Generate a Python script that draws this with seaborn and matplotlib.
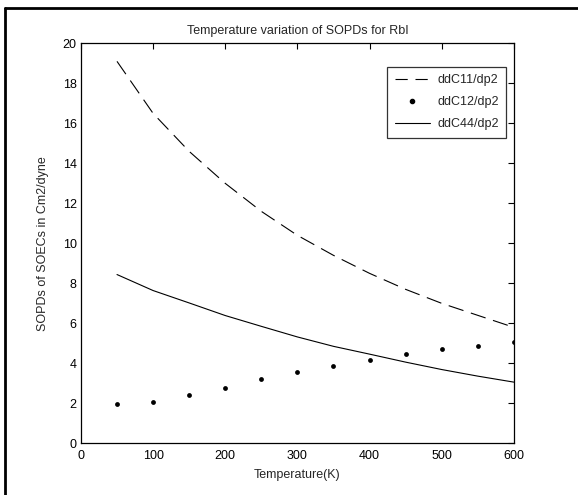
import numpy as np
import pandas as pd
import matplotlib
matplotlib.use("Agg")
import matplotlib.pyplot as plt
import seaborn as sns
from matplotlib.lines import Line2D

temperature = [50, 100, 150, 200, 250, 300, 350, 400, 450, 500, 550, 600]
ddC11 = [19.1, 16.5, 14.6, 13.0, 11.6, 10.4, 9.4, 8.5, 7.7, 7.0, 6.4, 5.8]
ddC12 = [1.95, 2.08, 2.43, 2.78, 3.2, 3.55, 3.89, 4.19, 4.49, 4.71, 4.88, 5.07]
ddC44 = [8.44, 7.64, 7.02, 6.39, 5.85, 5.32, 4.85, 4.46, 4.06, 3.69, 3.36, 3.06]

sns.set_theme(style="white")
plt.rcParams['font.family'] = ['Liberation Sans', 'DejaVu Sans']

fig = plt.figure(figsize=(5.78, 4.95), dpi=100)
ax = fig.add_axes([0.140, 0.1044, 0.749, 0.808])

df = pd.DataFrame({"T": temperature, "c11": ddC11, "c12": ddC12, "c44": ddC44})

sns.lineplot(data=df, x="T", y="c11", ax=ax, color="black", linewidth=0.8,
             linestyle=(0, (14, 7)))
sns.scatterplot(data=df, x="T", y="c12", ax=ax, color="black", s=12,
                marker="o", edgecolor="black", linewidth=0)
sns.lineplot(data=df, x="T", y="c44", ax=ax, color="black", linewidth=0.8)

ax.set_xlim(0, 600)
ax.set_ylim(0, 20)
ax.set_xticks(range(0, 601, 100))
ax.set_yticks(range(0, 21, 2))
ax.tick_params(direction="in", length=4, width=0.8, top=True, right=True,
               labelsize=9, colors="black")
ax.tick_params(axis="x", pad=5)
ax.tick_params(axis="y", pad=3)
for s in ax.spines.values():
    s.set_visible(True)
    s.set_color("black")
    s.set_linewidth(0.9)

ax.set_xlabel("Temperature(K)", fontsize=9, labelpad=5)
ax.set_ylabel("SOPDs of SOECs in Cm2/dyne", fontsize=9, labelpad=10)
ax.set_title("Temperature variation of SOPDs for RbI", fontsize=9, pad=7)

handles = [
    Line2D([], [], color="black", lw=0.8, linestyle=(0, (11, 7))),
    Line2D([], [], color="black", lw=0, marker="o", markersize=3),
    Line2D([], [], color="black", lw=0.8),
]
leg = ax.legend(handles, ["ddC11/dp2", "ddC12/dp2", "ddC44/dp2"],
                loc="upper right", bbox_to_anchor=(0.983, 0.942), fontsize=9,
                frameon=True, fancybox=False, handlelength=2.8,
                borderpad=0.6, labelspacing=0.8, handletextpad=0.6,
                borderaxespad=0)
leg.get_frame().set_edgecolor("black")
leg.get_frame().set_linewidth(0.9)

# figure frame
fig.add_artist(Line2D([0.009, 0.009], [0, 0.984], transform=fig.transFigure,
                      color="black", lw=2))
fig.add_artist(Line2D([0.008, 1.0], [0.984, 0.984], transform=fig.transFigure,
                      color="black", lw=2))

fig.savefig("out.png", dpi=100)
